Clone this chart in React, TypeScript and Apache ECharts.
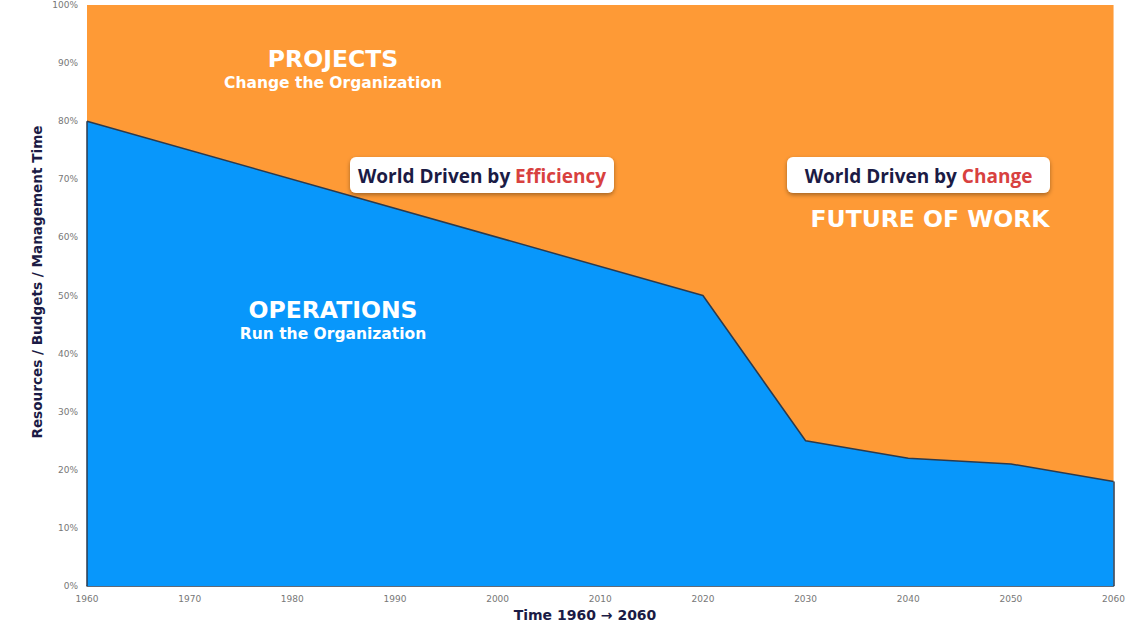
import React, { useEffect, useRef } from "react";
import * as echarts from "echarts";

// Share of Operations; Projects take the rest up to 100 %.
const years = [1960, 2020, 2030, 2040, 2050, 2060];
const operations = [80, 50, 25, 22, 21, 18];
const yTicks = { min: 0, max: 100, interval: 10 };
const xTicks = { min: 1960, max: 2060, interval: 10 };

const BLUE = "#0897FB";
const ORANGE = "#FE9A36";
const EDGE = "#2c3a4c";
const NAVY = "#1b1b45";
const RED = "#d8413f";

export default function App() {
  const ref = useRef<HTMLDivElement>(null);
  useEffect(() => {
    if (!ref.current) return;
    const chart = echarts.init(ref.current, null, { renderer: "svg" });
    const boxText = (x: number, y: number, w: number, h: number, a: string, b: string) => ({
      type: "group",
      z: 100,
      children: [
        {
          type: "rect",
          z: 100,
          shape: { x, y, width: w, height: h, r: 6 },
          style: { fill: "#ffffff", shadowBlur: 4, shadowColor: "rgba(0,0,0,0.35)", shadowOffsetY: 2 },
        },
        {
          type: "text",
          z: 101,
          x: x + w / 2,
          y: y + h / 2 + 1,
          style: {
            text: `{a|${a}}{b|${b}}`,
            align: "center",
            verticalAlign: "middle",
            rich: {
              a: { fontFamily: "Open Sans", fontWeight: "bold", fontSize: 19, fill: NAVY },
              b: { fontFamily: "Open Sans", fontWeight: "bold", fontSize: 19, fill: RED },
            },
          },
        },
      ],
    });
    const white = (x: number, y: number, text: string, size: number) => ({
      type: "text",
      z: 100,
      x,
      y,
      style: {
        text,
        fill: "#ffffff",
        fontFamily: "DejaVu Sans",
        fontWeight: "bold",
        fontSize: size,
        align: "center",
        verticalAlign: "middle",
      },
    });
    const pts = years.map((y, i) => [y, operations[i]]);
    chart.setOption({
      animation: false,
      backgroundColor: "#ffffff",
      grid: { left: 87, right: 13, top: 5, bottom: 44, containLabel: false },
      xAxis: {
        type: "value",
        min: xTicks.min,
        max: xTicks.max,
        interval: xTicks.interval,
        axisLine: { show: true, lineStyle: { color: EDGE, width: 1.5 } },
        axisTick: { show: false },
        splitLine: { show: false },
        axisLabel: {
          fontSize: 9,
          color: "#777",
          fontFamily: "DejaVu Sans",
          margin: 8,
          formatter: (v: number) => String(v),
        },
      },
      yAxis: {
        type: "value",
        min: yTicks.min,
        max: yTicks.max,
        interval: yTicks.interval,
        axisLine: { show: false },
        axisTick: { show: false },
        splitLine: { show: false },
        axisLabel: { fontSize: 9, color: "#777", fontFamily: "DejaVu Sans", margin: 9, formatter: "{value}%" },
      },
      series: [
        {
          name: "Projects",
          type: "line",
          data: pts,
          symbol: "none",
          lineStyle: { width: 0, color: ORANGE },
          itemStyle: { color: ORANGE },
          areaStyle: { color: ORANGE, opacity: 1, origin: "end" },
          z: 1,
        },
        {
          name: "Operations",
          type: "line",
          data: pts,
          symbol: "none",
          lineStyle: { color: EDGE, width: 1.5 },
          itemStyle: { color: BLUE },
          areaStyle: { color: BLUE, opacity: 1, origin: "start" },
          z: 2,
          markLine: {
            silent: true,
            symbol: "none",
            label: { show: false },
            lineStyle: { color: EDGE, width: 1.5, type: "solid" },
            data: [
              [{ coord: [years[0], 0] }, { coord: [years[0], operations[0]] }],
              [
                { coord: [years[years.length - 1], 0] },
                { coord: [years[years.length - 1], operations[operations.length - 1]] },
              ],
            ],
          },
        },
      ],
      graphic: [
        white(333, 59, "PROJECTS", 23.5),
        white(333, 83, "Change the Organization", 15.5),
        white(333, 310, "OPERATIONS", 23.5),
        white(333, 334, "Run the Organization", 15.5),
        white(930, 219, "FUTURE OF WORK", 23.5),
        boxText(350, 157, 264, 36, "World Driven by ", "Efficiency"),
        boxText(787, 157, 263, 36, "World Driven by ", "Change"),
        {
          type: "text",
          z: 100,
          x: 585,
          y: 615,
          style: {
            text: "Time 1960 → 2060",
            fill: NAVY,
            fontFamily: "DejaVu Sans",
            fontWeight: "bold",
            fontSize: 14,
            align: "center",
            verticalAlign: "middle",
          },
        },
        {
          type: "text",
          z: 100,
          x: 37,
          y: 282,
          rotation: Math.PI / 2,
          style: {
            text: "Resources / Budgets / Management Time",
            fill: NAVY,
            fontFamily: "DejaVu Sans",
            fontWeight: "bold",
            fontSize: 13.6,
            align: "center",
            verticalAlign: "middle",
          },
        },
      ],
    });
    return () => chart.dispose();
  }, []);
  return <div ref={ref} style={{ width: 1128, height: 630, position: "absolute", left: 0, top: 0 }} />;
}
